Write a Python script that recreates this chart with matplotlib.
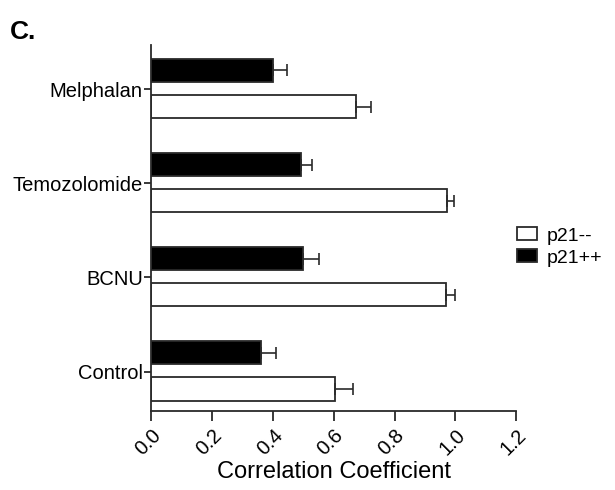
import numpy as np
import matplotlib.pyplot as plt
import matplotlib.transforms as mtransforms

plt.rcParams['font.family'] = ['Liberation Sans', 'DejaVu Sans']

drugs = ['Control', 'BCNU', 'Temozolomide', 'Melphalan']
neg_vals = [0.605, 0.97, 0.972, 0.672]   # p21--
neg_err = [0.06, 0.03, 0.022, 0.05]
pos_vals = [0.36, 0.498, 0.493, 0.401]   # p21++
pos_err = [0.05, 0.055, 0.035, 0.047]

fig = plt.figure(figsize=(6.15, 4.9), dpi=100)
ax = fig.add_axes([0.2455, 0.161, 0.594, 0.747])

y = np.arange(len(drugs))
h = 0.245
edge = '#2a2a2a'
ekw = dict(ecolor=edge, elinewidth=1.2, capsize=4, capthick=1.2)

ax.barh(y - 0.185, neg_vals, height=h, color='white', edgecolor=edge, linewidth=1.3,
        xerr=[np.zeros(4), neg_err], error_kw=ekw, label='p21--')
ax.barh(y + 0.2, pos_vals, height=h, color='black', edgecolor=edge, linewidth=1.3,
        xerr=[np.zeros(4), pos_err], error_kw=ekw, label='p21++')

ax.set_xlim(0, 1.2)
ax.set_ylim(-0.42, 3.47)
ax.set_yticks(y)
ax.set_yticklabels(drugs, fontsize=14.5)
xt = np.arange(0, 1.21, 0.2)
ax.set_xticks(xt)
ax.set_xticklabels(['%.1f' % v for v in xt], rotation=45, fontsize=14.5,
                   ha='right', va='center', rotation_mode='anchor')
ax.set_xlabel('Correlation Coefficient', fontsize=17, labelpad=2)

for s in ['top', 'right']:
    ax.spines[s].set_visible(False)
for s in ['left', 'bottom']:
    ax.spines[s].set_color(edge)
    ax.spines[s].set_linewidth(1.3)
ax.tick_params(axis='y', direction='out', length=5, width=1.3, color=edge, pad=1)
ax.tick_params(axis='x', direction='out', length=7, width=1.3, color=edge, pad=8)

# labels sit a bit right of their ticks in the original
shift = mtransforms.ScaledTranslation(0.07, 0, fig.dpi_scale_trans)
for lab in ax.xaxis.get_majorticklabels():
    lab.set_transform(lab.get_transform() + shift)

fig.legend(loc='center left', bbox_to_anchor=(0.841, 0.496), frameon=False, fontsize=14,
           borderpad=0, borderaxespad=0, handlelength=1.0, handleheight=0.65,
           handletextpad=0.5, labelspacing=0.25)

fig.text(0.016, 0.92, 'C.', fontsize=19, fontweight='bold')

fig.savefig('out.png', dpi=100)
